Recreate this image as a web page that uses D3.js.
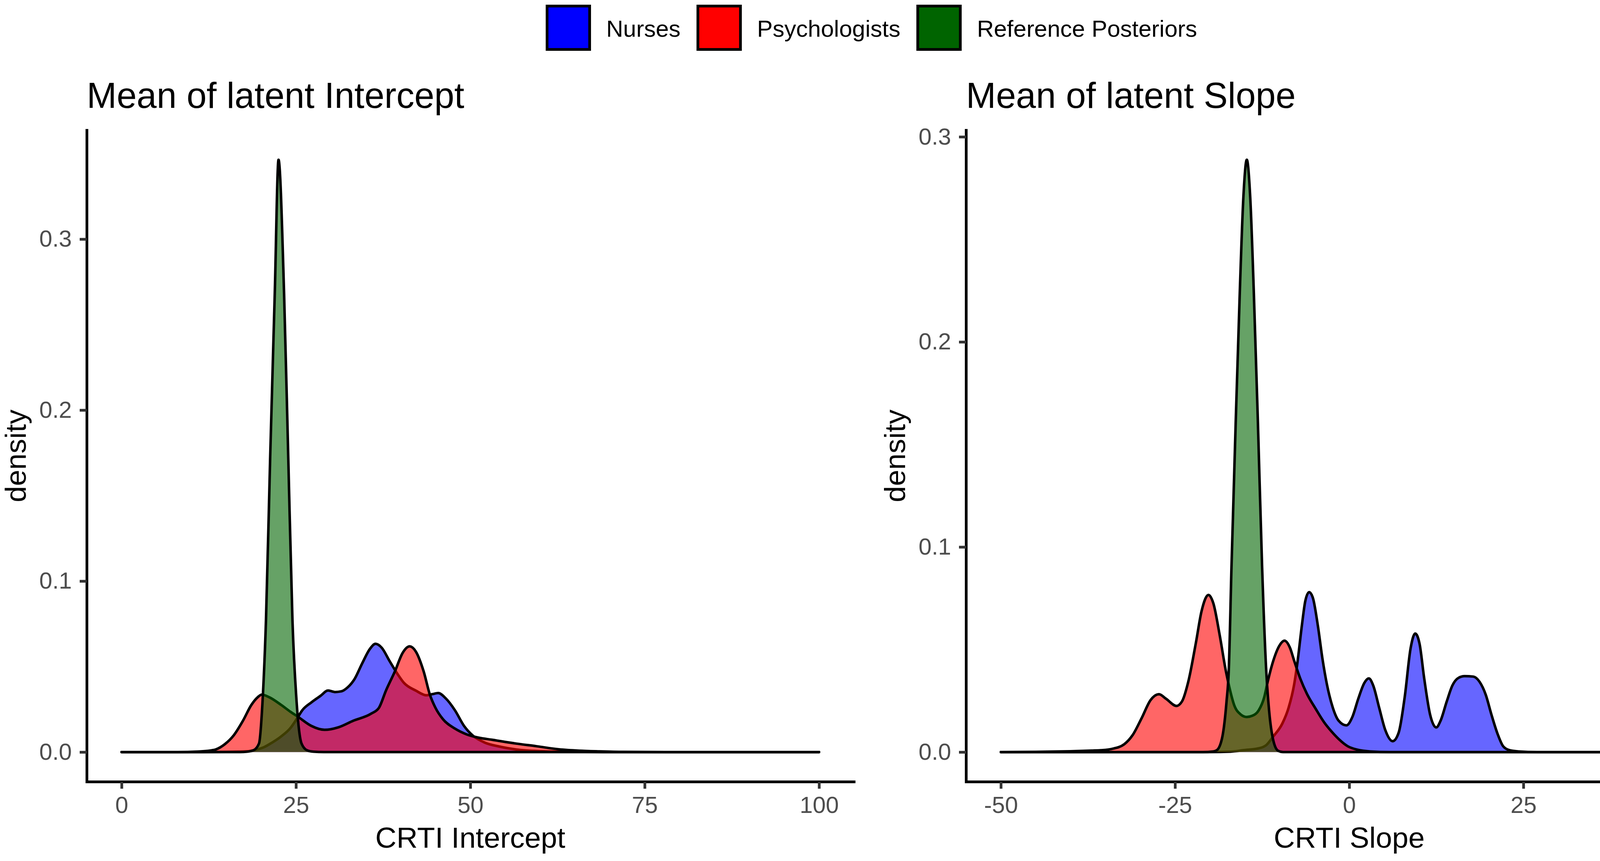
<!DOCTYPE html>
<html>
<head>
<meta charset="utf-8">
<script src="https://cdn.jsdelivr.net/npm/d3@7"></script>
<style>
  body { margin: 0; background: #fff; }
  svg { display: block; }
</style>
</head>
<body>
<svg id="chart" width="4443" height="2203"></svg>
<script>
// groups and legend colours
const groups = ["Nurses", "Psychologists", "Reference Posteriors"];
const fillColors = ["#0000FF", "#FF0000", "#006400"];

// density curves: [x, density]
const interceptNurses = [
  [0, 0], [10, 0], [15, 0.0001], [18, 0.0004], [19.1, 0.0012], [20.5, 0.003], [21.2, 0.0046],
  [22.9, 0.0092], [24.2, 0.014], [25.3, 0.0206], [25.9, 0.0244], [27.2, 0.029], [28.5, 0.0328],
  [29.6, 0.036], [30.6, 0.0351], [31.5, 0.0355], [32.4, 0.0378], [33.4, 0.0427], [34.5, 0.0519],
  [35.6, 0.0603], [36.4, 0.0633], [37.3, 0.061], [38.4, 0.0534], [39.2, 0.048], [40.5, 0.0404],
  [42.2, 0.0359], [43.7, 0.0332], [44.6, 0.0339], [45.4, 0.0345], [46.5, 0.0313], [47.8, 0.0244],
  [49.1, 0.0153], [50.4, 0.0095], [52.1, 0.0055], [54.2, 0.0032], [56.6, 0.0015], [60.2, 0.0005],
  [63, 0.0002], [70, 0], [100, 0]
];
const interceptPsych = [
  [0, 0], [8, 0], [11, 0.0003], [12.6, 0.0008], [13.5, 0.0015], [14.8, 0.0046], [16.1, 0.0099],
  [17.4, 0.0183], [18.6, 0.0275], [19.5, 0.032], [20.1, 0.0336], [21.2, 0.032], [22.9, 0.0275],
  [24.2, 0.0236], [25.3, 0.0206], [27.2, 0.0153], [29.1, 0.013], [31.1, 0.0145], [33.2, 0.0183],
  [35.8, 0.0225], [36.9, 0.0259], [37.9, 0.0359], [39.2, 0.0473], [40.3, 0.058], [41.3, 0.0618],
  [42.2, 0.0587], [43.3, 0.0473], [44.2, 0.0336], [45.0, 0.0259], [46.1, 0.0191], [47.8, 0.0137],
  [49.5, 0.0103], [51.2, 0.0084], [53.1, 0.0072], [56.5, 0.005], [59.5, 0.0034], [62.7, 0.0016],
  [65.6, 0.0008], [68.5, 0.0004], [72, 0.0001], [78, 0], [100, 0]
];
const interceptRef = [
  [0, 0], [17, 0], [18.0, 0.0002], [18.9, 0.001], [19.7, 0.005], [20.2, 0.029], [20.7, 0.077],
  [21.3, 0.172], [21.96, 0.268], [22.5, 0.3464], [23.3, 0.268], [23.9, 0.172], [24.5, 0.077],
  [25.1, 0.029], [25.8, 0.005], [26.6, 0.001], [27.5, 0.0002], [29, 0], [100, 0]
];

const slopeNurses = [
  [-50, 0], [-20, 0], [-17, 0.0002], [-15.2, 0.0009], [-13.0, 0.0018], [-11.9, 0.0034],
  [-10.9, 0.0076], [-9.6, 0.0139], [-8.7, 0.0216], [-7.9, 0.033], [-7.4, 0.0445], [-6.8, 0.0616],
  [-6.3, 0.0737], [-5.75, 0.078], [-5.2, 0.075], [-4.5, 0.0616], [-3.85, 0.0457], [-3.2, 0.033],
  [-2.35, 0.0216], [-1.5, 0.0152], [-0.41, 0.013], [0.45, 0.0171], [1.3, 0.026], [2.17, 0.0337],
  [2.81, 0.0359], [3.45, 0.0324], [4.3, 0.0216], [5.17, 0.0108], [6.24, 0.0053], [7.1, 0.0095],
  [7.96, 0.0267], [8.82, 0.0508], [9.47, 0.0578], [10.1, 0.0527], [10.75, 0.0362], [11.6, 0.0184],
  [12.5, 0.012], [13.1, 0.0152], [14.0, 0.0247], [14.8, 0.0324], [15.7, 0.0362], [16.55, 0.037],
  [17.8, 0.0368], [18.7, 0.0343], [19.6, 0.0279], [20.4, 0.0184], [21.3, 0.0088], [22.1, 0.0028],
  [23.0, 0.0009], [24.3, 0.0003], [27, 0], [50, 0]
];
const slopePsych = [
  [-50, 0], [-45, 0.0001], [-40, 0.0004], [-37, 0.0007], [-35.6, 0.0009], [-34.1, 0.0015],
  [-32.3, 0.0038], [-31.1, 0.0082], [-29.8, 0.0165], [-28.5, 0.0254], [-27.3, 0.0282],
  [-26.3, 0.026], [-24.8, 0.0225], [-24.0, 0.0247], [-23.1, 0.0343], [-22.0, 0.0534],
  [-21.2, 0.0686], [-20.2, 0.0766], [-19.5, 0.0725], [-18.6, 0.0572], [-17.7, 0.0394],
  [-17.3, 0.033], [-16.5, 0.0228], [-15.6, 0.0184], [-14.7, 0.0171], [-13.9, 0.0177],
  [-13.0, 0.0203], [-12.2, 0.0267], [-11.7, 0.0343], [-10.9, 0.0445], [-10.0, 0.052],
  [-9.3, 0.0543], [-8.5, 0.0508], [-7.9, 0.0445], [-7.0, 0.0356], [-6.1, 0.0286], [-4.8, 0.021],
  [-3.6, 0.0145], [-2.56, 0.0101], [-1.5, 0.0063], [-0.2, 0.0028], [1.1, 0.0012], [3, 0.0003],
  [6, 0], [50, 0]
];
const slopeRef = [
  [-50, 0], [-21, 0], [-19.5, 0.0003], [-19.0, 0.0009], [-18.2, 0.0076], [-17.6, 0.025],
  [-17.3, 0.039], [-16.9, 0.09], [-16.3, 0.16], [-15.7, 0.225], [-15.2, 0.27], [-14.7, 0.2888],
  [-14.2, 0.27], [-13.7, 0.225], [-13.1, 0.16], [-12.5, 0.09], [-11.9, 0.039], [-11.5, 0.0203],
  [-10.9, 0.0057], [-10.2, 0.0006], [-9.5, 0], [50, 0]
];

// tick labels
const xTicksIntercept = [0, 25, 50, 75, 100];
const xTicksSlope = [-50, -25, 0, 25, 50];
const yTicks = [0, 0.1, 0.2, 0.3];

const font = "'Liberation Sans', Arial, Helvetica, sans-serif";
const svg = d3.select("#chart").attr("font-family", font);

const plotTop = 333, plotBottom = 2000;

const panels = [
  { title: "Mean of latent Intercept", xlab: "CRTI Intercept", left: 222, right: 2186,
    xLimits: [0, 100], yMax: 0.3464, xTicks: xTicksIntercept,
    series: [interceptNurses, interceptPsych, interceptRef] },
  { title: "Mean of latent Slope", xlab: "CRTI Slope", left: 2473, right: 4435,
    xLimits: [-50, 50], yMax: 0.2888, xTicks: xTicksSlope,
    series: [slopeNurses, slopePsych, slopeRef] }
];

panels.forEach(p => {
  const span = p.xLimits[1] - p.xLimits[0];
  const x = d3.scaleLinear()
    .domain([p.xLimits[0] - 0.05 * span, p.xLimits[1] + 0.05 * span])
    .range([p.left, p.right]);
  const y = d3.scaleLinear()
    .domain([-0.05 * p.yMax, 1.05 * p.yMax])
    .range([plotBottom, plotTop]);

  const area = d3.area()
    .x(d => x(d[0]))
    .y0(y(0))
    .y1(d => y(d[1]))
    .curve(d3.curveMonotoneX);
  const line = d3.line()
    .x(d => x(d[0]))
    .y(d => y(d[1]))
    .curve(d3.curveMonotoneX);

  const g = svg.append("g");
  p.series.forEach((s, i) => {
    g.append("path")
      .datum(s)
      .attr("d", area)
      .attr("fill", fillColors[i])
      .attr("fill-opacity", 0.6);
    g.append("path")
      .datum(s)
      .attr("d", line)
      .attr("fill", "none")
      .attr("stroke", "#000")
      .attr("stroke-width", 6.5)
      .attr("stroke-linejoin", "round")
      .attr("stroke-linecap", "round");
  });

  // axes
  const gx = svg.append("g")
    .attr("transform", `translate(0,${plotBottom})`)
    .call(d3.axisBottom(x).tickValues(p.xTicks).tickFormat(d => String(d))
      .tickSize(18).tickPadding(19).tickSizeOuter(0));
  const gy = svg.append("g")
    .attr("transform", `translate(${p.left},0)`)
    .call(d3.axisLeft(y).tickValues(yTicks).tickFormat(d3.format(".1f"))
      .tickSize(18).tickPadding(20).tickSizeOuter(0));

  [gx, gy].forEach(a => {
    a.attr("font-family", font).attr("font-size", 60);
    a.select(".domain").attr("stroke", "#000").attr("stroke-width", 7)
      .attr("stroke-linecap", "square");
    a.selectAll(".tick line").attr("stroke", "#333").attr("stroke-width", 7);
    a.selectAll(".tick text").attr("fill", "#4D4D4D");
  });

  // titles
  svg.append("text")
    .attr("x", p.left)
    .attr("y", 276)
    .attr("font-size", 92)
    .attr("fill", "#000")
    .text(p.title);
  svg.append("text")
    .attr("x", (p.left + p.right) / 2)
    .attr("y", 2169)
    .attr("text-anchor", "middle")
    .attr("font-size", 75)
    .attr("fill", "#000")
    .text(p.xlab);
  svg.append("text")
    .attr("transform", `translate(${p.left - 156},${(plotTop + plotBottom) / 2}) rotate(-90)`)
    .attr("text-anchor", "middle")
    .attr("font-size", 75)
    .attr("fill", "#000")
    .text("density");
});

// legend across the top
let lx = 1397;
groups.forEach((name, i) => {
  svg.append("rect")
    .attr("x", lx + 3.5)
    .attr("y", 15.5)
    .attr("width", 109)
    .attr("height", 111)
    .attr("fill", fillColors[i])
    .attr("stroke", "#000")
    .attr("stroke-width", 7);
  const t = svg.append("text")
    .attr("x", lx + 155)
    .attr("y", 94)
    .attr("font-size", 60)
    .attr("fill", "#000")
    .text(name);
  lx = lx + 155 + t.node().getComputedTextLength() + 41;
});
</script>
</body>
</html>
